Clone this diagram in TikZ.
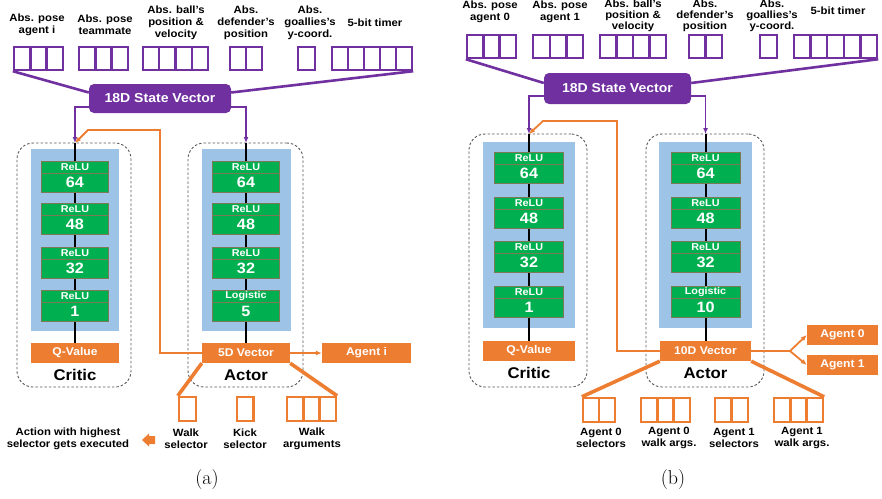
\documentclass[tikz,border=0pt]{standalone}
\usepackage{fontspec}
\newfontfamily\labfont[FakeStretch=1.08]{Liberation Sans}
\usepackage{tikz}
\usetikzlibrary{positioning,arrows.meta,calc}

\definecolor{svpurple}{HTML}{7030A0}
\definecolor{actorange}{HTML}{ED7D31}
\definecolor{layergreen}{HTML}{00B050}
\definecolor{layerline}{HTML}{7C7A55}
\definecolor{netblue}{HTML}{9DC3E6}

\newcommand{\fs}[2]{\fontsize{#1}{#2}\selectfont}
% a row of equal cells: style, name, left x, centre y, cells, pitch
\newcommand{\cellrow}[6]{%
  \foreach \k in {1,...,#5}
    \node[#1, minimum width=#6pt] (#2-\k) at ({#3+#6*(\k-0.5)},#4) {};
}

\begin{document}
\begin{tikzpicture}[
    x=1pt, y=-1pt,
    >=Latex,
    lab/.style={font=\labfont\bfseries\fs{10.5}{12.2}, align=center, inner sep=0pt},
    tightlab/.style={lab, font=\labfont\bfseries\fs{10.5}{10.8}},
    incell/.style={draw=svpurple, line width=2.4pt, minimum height=23pt, inner sep=0pt},
    outcell/.style={draw=actorange, line width=2.4pt, minimum height=24pt, inner sep=0pt},
    statevec/.style={fill=svpurple, rounded corners=5pt, text=white, inner sep=0pt,
      font=\labfont\bfseries\fs{13}{13}},
    panel/.style={draw=black!65, dash pattern=on 2.5pt off 2pt, line width=.9pt,
      rounded corners=16pt, inner sep=0pt},
    netblock/.style={fill=netblue, inner sep=0pt},
    layerhead/.style={draw=layerline, fill=layergreen, line width=.7pt, outer sep=0pt,
      minimum width=#1, minimum height=12pt, inner sep=0pt, text=white,
      font=\labfont\bfseries\fs{10}{10}},
    layerhead/.default=67pt,
    layernum/.style={draw=layerline, fill=layergreen, line width=.7pt, outer sep=0pt,
      minimum width=#1, minimum height=19.5pt, inner sep=0pt, text=white,
      font=\labfont\bfseries\fs{15}{15}},
    layernum/.default=67pt,
    outbox/.style={fill=actorange, text=white, inner sep=0pt, minimum height=20pt,
      font=\labfont\bfseries\fs{11.2}{11.2}},
    title/.style={font=\labfont\bfseries\fs{15.5}{15.5}, inner sep=0pt},
    caption/.style={font=\fs{20}{20}, inner sep=0pt},
    pwire/.style={draw=svpurple, line width=2.6pt},
    pleg/.style={->, draw=svpurple, line width=1.6pt, >={Latex[length=6pt,width=5pt]}},
    wire/.style={draw=black, line width=2pt},
    oarrow/.style={->, draw=actorange, line width=1.8pt, >={Latex[length=6pt,width=5pt]}},
    oline/.style={draw=actorange, line width=1.8pt},
    ofan/.style={draw=actorange, line width=3.6pt}
  ]
    \useasboundingbox (0,0) rectangle (882,498);
    \clip (0,0) rectangle (882,498);

    %%% (a) single agent
    \node[lab] (la1) at (37,24.5) {Abs. pose\\agent i};
    \node[lab] (la2) at (105,24.5) {Abs. pose\\teammate};
    \node[lab] (la3) at (176,23) {Abs. ball’s\\position \&\\velocity};
    \node[lab] (la4) at (246,23) {Abs.\\defender’s\\position};
    \node[lab] (la5) at (310,23) {Abs.\\goallies’s\\y-coord.};
    \node[lab] (la6) at (375,23) {5-bit timer};

    \cellrow{incell}{pa1}{14}{58.5}{3}{16.3}
    \cellrow{incell}{pa2}{79}{58.5}{3}{16.3}
    \cellrow{incell}{pa3}{143}{58.5}{4}{16.25}
    \cellrow{incell}{pa4}{230}{58.5}{2}{16}
    \cellrow{incell}{pa5}{298}{58.5}{1}{17}
    \cellrow{incell}{pa6}{332}{58.5}{5}{16}

    \node[statevec, minimum width=142pt, minimum height=29pt] (sva) at (160,98.5) {18D State Vector};
    \draw[pwire] (pa1-1.south west) -- ([yshift=6pt]sva.west);
    \draw[pwire] (pa6-5.south east) -- ([yshift=6pt]sva.east);

    \node[panel, minimum width=114pt, minimum height=244pt] (cpa) at (74,265) {};
    \node[panel, minimum width=115pt, minimum height=244pt] (apa) at (245.5,265) {};
    \node[netblock, minimum width=88pt, minimum height=182pt] (cba) at (75,240) {};
    \node[netblock, minimum width=89pt, minimum height=182pt] (aba) at (246.5,240) {};
    \node[outbox, minimum width=88pt] (qa) at (75,353) {Q-Value};
    \node[outbox, minimum width=88pt] (va) at (246,353) {5D Vector};
    \node[outbox, minimum width=89pt] (agi) at (366.5,353) {Agent i};
    \node[title] (cta) at (75,375) {Critic};
    \node[title] (ata) at (246,375) {Actor};

    \coordinate (cina) at (75,143);
    \coordinate (aina) at (246,143);
    \draw[wire] (cina) -- (qa.north);
    \draw[wire] (aina) -- (va.north);

    \foreach \n/\v/\y in {1/64/161, 2/48/203, 3/32/247, 4/1/290} {
      \node[layerhead, anchor=north] (cha\n) at (75,\y) {ReLU};
      \node[layernum, below=0pt of cha\n] (cna\n) {\v};
    }
    \foreach \n/\h/\v/\y in {1/ReLU/64/161, 2/ReLU/48/203, 3/ReLU/32/247, 4/Logistic/5/290} {
      \node[layerhead, anchor=north] (aha\n) at (246,\y) {\h};
      \node[layernum, below=0pt of aha\n] (ana\n) {\v};
    }

    \draw[pleg] ([yshift=6pt]sva.south west) -| (cina);
    \draw[pleg] ([yshift=6pt]sva.south east) -| (aina);
    \coordinate (lpa) at (160,130);
    \draw[oarrow] (va.west) -| (lpa) -- ++(-72,0) -- (cina);
    \draw[oarrow] (va.east) -- (agi.west);

    \cellrow{outcell}{wsa}{179}{409}{1}{17}
    \cellrow{outcell}{ksa}{237}{409}{1}{16.5}
    \cellrow{outcell}{waa}{287}{409}{3}{16.3}
    \draw[ofan] (va.south west) -- (wsa-1.north west);
    \draw[ofan] (va.south east) -- (waa-3.north east);

    \node[lab] (lwsa) at (186,439) {Walk\\selector};
    \node[lab] (lksa) at (245,439) {Kick\\selector};
    \node[lab] (lwaa) at (312,439) {Walk\\arguments};
    % chunky arrow pointing at the note
    \coordinate (pka) at (149,440);
    \fill[actorange] (pka) ++(-7,0) -- ++(7,-6.5) -- ++(0,2.5) -- ++(6,0) -- ++(0,8)
      -- ++(-6,0) -- ++(0,2.5) -- cycle;
    \node[lab] (lexa) at (68,439) {Action with highest\\selector gets executed};
    \node[caption] (capa) at (207,480) {(a)};

    %%% (b) two agents
    \node[lab] (lb1) at (490,12) {Abs. pose\\agent 0};
    \node[lab] (lb2) at (560,12) {Abs. pose\\agent 1};
    \node[tightlab] (lb3) at (633,16) {Abs. ball’s\\position \&\\velocity};
    \node[tightlab] (lb4) at (705,16) {Abs.\\defender’s\\position};
    \node[tightlab] (lb5) at (772,16) {Abs.\\goallies’s\\y-coord.};
    \node[lab] (lb6) at (838,11) {5-bit timer};

    \cellrow{incell}{pb1}{467}{46.5}{3}{16.3}
    \cellrow{incell}{pb2}{533}{46.5}{3}{16.7}
    \cellrow{incell}{pb3}{600}{46.5}{4}{16.5}
    \cellrow{incell}{pb4}{689}{46.5}{2}{16.5}
    \cellrow{incell}{pb5}{760}{46.5}{1}{17}
    \cellrow{incell}{pb6}{794}{46.5}{5}{16.6}

    \node[statevec, minimum width=147pt, minimum height=31pt] (svb) at (617.5,88.5) {18D State Vector};
    \draw[pwire] (pb1-1.south west) -- ([yshift=5.5pt]svb.west);
    \draw[pwire] (pb6-5.south east) -- ([yshift=5.5pt]svb.east);

    \node[panel, minimum width=118pt, minimum height=253pt] (cpb) at (528,260.5) {};
    \node[panel, minimum width=118pt, minimum height=253pt] (apb) at (705,260.5) {};
    \node[netblock, minimum width=92pt, minimum height=186pt] (cbb) at (529,235) {};
    \node[netblock, minimum width=93pt, minimum height=186pt] (abb) at (705.5,235) {};
    \node[outbox, minimum width=92pt] (qb) at (529,351) {Q-Value};
    \node[outbox, minimum width=91pt] (vb) at (705.5,351) {10D Vector};
    \node[outbox, minimum width=71pt] (ag0) at (842.5,335) {Agent 0};
    \node[outbox, minimum width=71pt] (ag1) at (842.5,365) {Agent 1};
    \node[title] (ctb) at (529,373) {Critic};
    \node[title] (atb) at (705.5,373) {Actor};

    \coordinate (cinb) at (529,134);
    \coordinate (ainb) at (705.5,134);
    \draw[wire] (cinb) -- (qb.north);
    \draw[wire] (ainb) -- (vb.north);

    \foreach \n/\v/\y in {1/64/152, 2/48/197, 3/32/241, 4/1/286} {
      \node[layerhead=69pt, anchor=north] (chb\n) at (529,\y) {ReLU};
      \node[layernum=69pt, below=0pt of chb\n] (cnb\n) {\v};
    }
    \foreach \n/\h/\v/\y in {1/ReLU/64/152, 2/ReLU/48/197, 3/ReLU/32/241, 4/Logistic/10/286} {
      \node[layerhead=69pt, anchor=north] (ahb\n) at (705.5,\y) {\h};
      \node[layernum=69pt, below=0pt of ahb\n] (anb\n) {\v};
    }

    \draw[pleg] ([yshift=8pt]svb.south west) -| (cinb);
    \draw[pleg] ([yshift=8pt]svb.south east) -| (ainb);
    \coordinate (lpb) at (617,121);
    \draw[oarrow] (vb.west) -| (lpb) -- ++(-74,0) -- (cinb);
    \coordinate (brb) at (790,351);
    \draw[oline] (vb.east) -- (brb);
    \draw[oarrow] (brb) -- (ag0.west);
    \draw[oarrow] (brb) -- (ag1.west);

    \cellrow{outcell}{a0s}{583}{410}{2}{16}
    \cellrow{outcell}{a0w}{641}{410}{3}{16.3}
    \cellrow{outcell}{a1s}{715}{410}{2}{16.5}
    \cellrow{outcell}{a1w}{774}{410}{3}{16.3}
    \draw[ofan] (vb.south west) -- (a0s-1.north west);
    \draw[ofan] (vb.south east) -- (a1w-3.north east);

    \node[lab] (la0s) at (601,438) {Agent 0\\selectors};
    \node[lab] (la0w) at (669,438) {Agent 0\\walk args.};
    \node[lab] (la1s) at (734,438) {Agent 1\\selectors};
    \node[lab] (la1w) at (802,438) {Agent 1\\walk args.};
    \node[caption] (capb) at (673,480) {(b)};
  \end{tikzpicture}
\end{document}
